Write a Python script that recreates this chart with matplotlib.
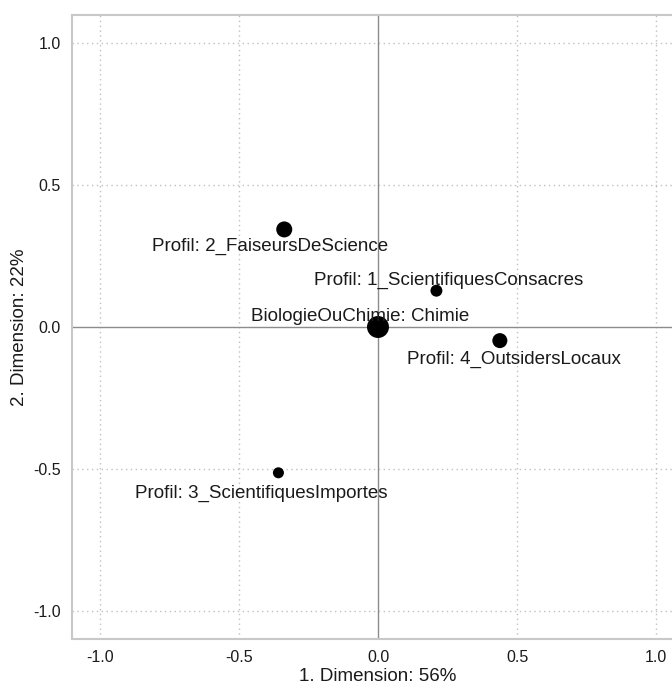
import matplotlib
matplotlib.use("Agg")
import matplotlib.pyplot as plt

# correspondence analysis map: profiles + supplementary point
labels = ["BiologieOuChimie: Chimie",
          "Profil: 1_ScientifiquesConsacres",
          "Profil: 2_FaiseursDeScience",
          "Profil: 3_ScientifiquesImportes",
          "Profil: 4_OutsidersLocaux"]
dim1 = [0.0, 0.21, -0.337, -0.358, 0.438]
dim2 = [0.0, 0.128, 0.344, -0.514, -0.048]
sizes = [250, 74, 133, 63, 117]
# label offsets in points (dx, dy)
offsets = [(-13, 7.5), (9, 7.5), (-10, -12.5), (-12, -14.5), (10, -13.5)]

ticks = [-1.0, -0.5, 0.0, 0.5, 1.0]
tick_labels = ["-1.0", "-0.5", "0.0", "0.5", "1.0"]

plt.rcParams["font.family"] = ["Liberation Sans", "DejaVu Sans"]

fig = plt.figure(figsize=(6.72, 6.86), dpi=100)
ax = fig.add_axes([72 / 672, 1 - 639 / 686, 612 / 672, 624 / 686])
ax.set_xlim(-1.1, 1.1)
ax.set_ylim(-1.1, 1.1)

for v in [-1.0, -0.5, 0.5, 1.0]:
    ax.axvline(v, color="#c0c0c0", lw=1, ls=(0, (1, 2.5)), zorder=0)
    ax.axhline(v, color="#c0c0c0", lw=1, ls=(0, (1, 2.5)), zorder=0)
ax.axvline(0, color="#8c8c8c", lw=1, zorder=1)
ax.axhline(0, color="#8c8c8c", lw=1, zorder=1)

ax.scatter(dim1, dim2, s=sizes, color="black", zorder=3, linewidths=0)
for x, y, lab, (dx, dy) in zip(dim1, dim2, labels, offsets):
    ax.annotate(lab, (x, y), xytext=(dx, dy), textcoords="offset points",
                ha="center", va="center", fontsize=13.5, color="#1a1a1a", zorder=4)

ax.set_xticks(ticks)
ax.set_xticklabels(tick_labels)
ax.set_yticks(ticks)
ax.set_yticklabels(tick_labels)
ax.tick_params(length=0, labelsize=11.5, labelcolor="#1a1a1a", pad=8)
for sp in ax.spines.values():
    sp.set_color("#c8c8c8")
    sp.set_linewidth(1.5)

ax.set_xlabel("1. Dimension: 56%", fontsize=13.5, color="#1a1a1a", labelpad=2)
ax.set_ylabel("2. Dimension: 22%", fontsize=13.5, color="#1a1a1a", labelpad=4)

fig.savefig("out.png", dpi=100)
